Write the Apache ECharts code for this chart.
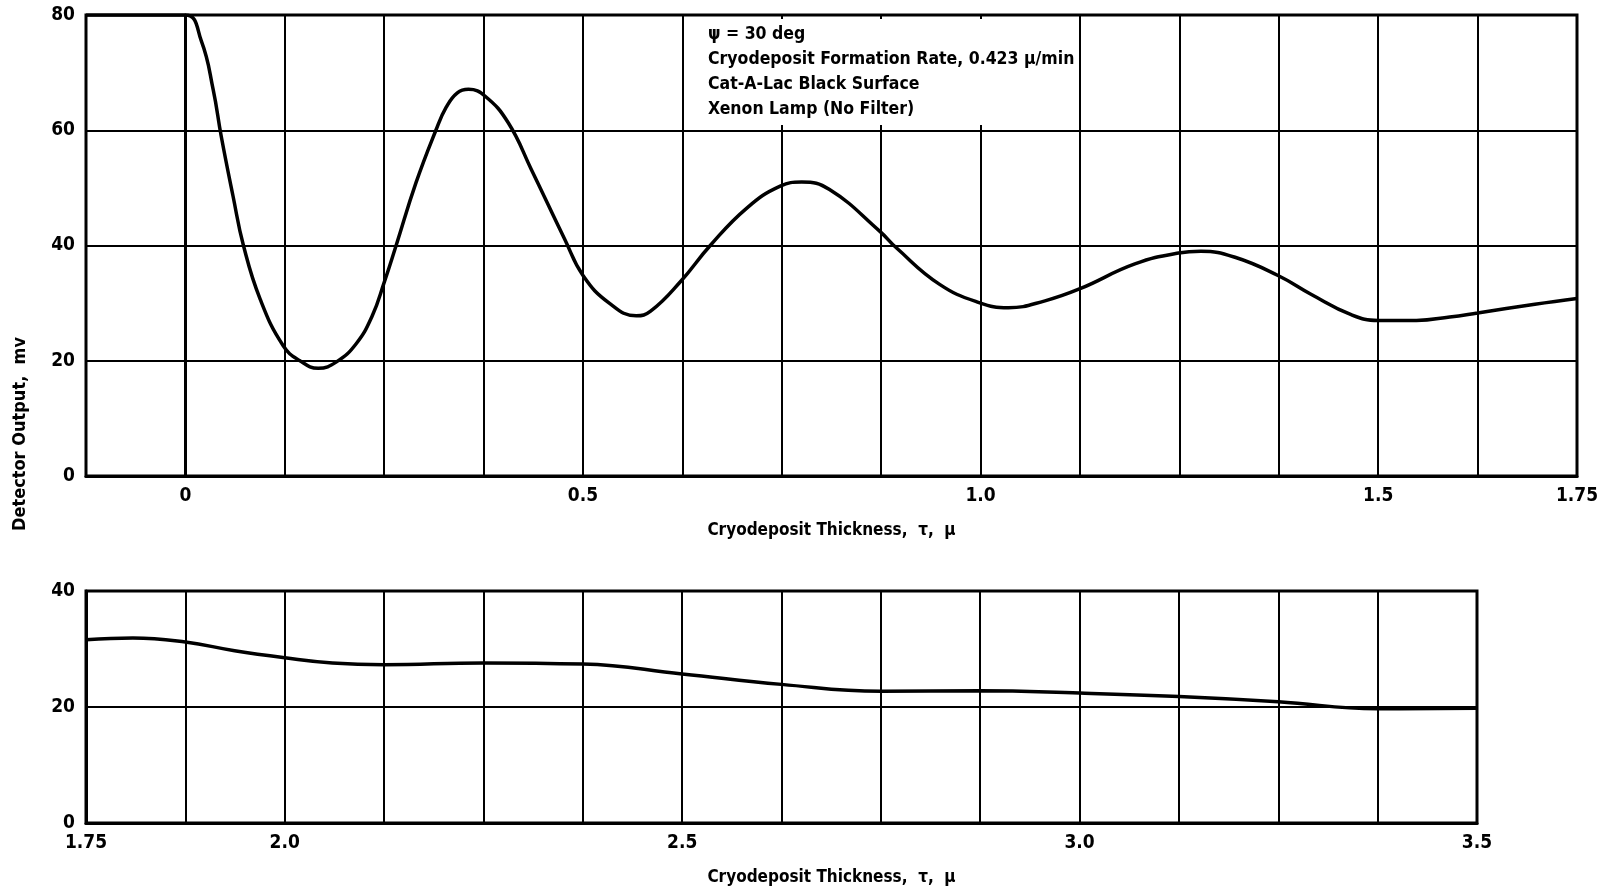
<!DOCTYPE html>
<html>
<head>
    <meta charset="utf-8">
    <title>Detector Output vs Cryodeposit Thickness</title>
    <script src="https://cdn.jsdelivr.net/npm/echarts@6/dist/echarts.min.js"></script>
    <style>
        html, body { margin: 0; padding: 0; background: #fff; }
        #main { width: 1609px; height: 896px; }
    </style>
</head>
<body>
<div id="main"></div>
<script>
    // upper panel: thickness 0 .. 1.75 micron
    var topX = [-0.125, 0, 0.02, 0.035, 0.045, 0.06, 0.073, 0.094, 0.123, 0.144, 0.167, 0.19, 0.215, 0.235,
        0.25, 0.265, 0.29, 0.315, 0.328, 0.342, 0.356, 0.377, 0.406, 0.435, 0.477, 0.5, 0.533, 0.567, 0.585, 0.623,
        0.66, 0.706, 0.748, 0.775, 0.81, 0.873, 0.894, 0.948, 0.998, 1.035, 1.081, 1.125, 1.194, 1.249, 1.277,
        1.319, 1.374, 1.416, 1.466, 1.5, 1.548, 1.59, 1.625, 1.697, 1.75];
    var topY = [80, 80, 75.5, 67, 59, 48.5, 40, 30.7, 22.6, 20, 18.7, 19.8, 23, 27.8,
        33.6, 40, 50.9, 60, 64, 66.5, 67.1, 65.9, 61.3, 53.2, 41.1, 34.8, 30.0, 27.8, 28.6, 33.8,
        40, 46.5, 50.3, 51, 49.7, 42.5, 39.6, 33.3, 30.1, 29.2, 30.4, 32.5, 36.8, 38.7, 39.0,
        38, 34.8, 31.5, 28, 27, 27, 27.6, 28.3, 29.8, 30.8];

    // lower panel: thickness 1.75 .. 3.5 micron
    var botX = [1.75, 1.809, 1.875, 1.937, 2.0, 2.06, 2.125, 2.25, 2.375, 2.5, 2.625, 2.75, 2.875, 3.0, 3.125, 3.25, 3.375, 3.5];
    var botY = [31.6, 31.9, 31.2, 29.7, 28.5, 27.6, 27.3, 27.6, 27.4, 25.7, 23.9, 22.7, 22.8, 22.4, 21.8, 20.9, 19.7, 19.8];

    var topTicks = [0, 0.5, 1, 1.5, 1.75];
    var topTickLabels = ['0', '0.5', '1.0', '1.5', '1.75'];
    var botTicks = [1.75, 2, 2.5, 3, 3.5];
    var botTickLabels = ['1.75', '2.0', '2.5', '3.0', '3.5'];

    var notes = [
        'ψ = 30 deg',
        'Cryodeposit Formation Rate, 0.423 μ/min',
        'Cat-A-Lac Black Surface',
        'Xenon Lamp (No Filter)'
    ];

    var font = "'Liberation Sans Narrow', 'DejaVu Sans Condensed', sans-serif";

    function pairs(xs, ys) {
        return xs.map(function (x, i) { return [x, ys[i]]; });
    }

    function tickLabel(ticks, labels) {
        return function (v) {
            for (var i = 0; i < ticks.length; i++) {
                if (Math.abs(ticks[i] - v) < 1e-6) return labels[i];
            }
            return '';
        };
    }

    function xAxis(idx, min, max, ticks, labels, pad) {
        return {
            type: 'value', gridIndex: idx, min: min, max: max, interval: 0.125,
            name: 'Cryodeposit Thickness,  τ,  μ',
            nameLocation: 'middle', nameGap: 46,
            nameTextStyle: { color: '#000', fontFamily: font, fontWeight: 'bold', fontSize: 17, padding: [0, 0, 0, pad] },
            axisLine: { show: true, lineStyle: { color: '#000', width: 3 } },
            axisTick: { show: false },
            axisLabel: {
                color: '#000', fontFamily: font, fontWeight: 'bold', fontSize: 19, margin: 11,
                showMinLabel: true, showMaxLabel: true, hideOverlap: false,
                formatter: tickLabel(ticks, labels)
            },
            splitLine: { show: true, lineStyle: { color: '#000', width: 2 } }
        };
    }

    function yAxis(idx, max) {
        return {
            type: 'value', gridIndex: idx, min: 0, max: max, interval: 20,
            axisLine: { show: true, lineStyle: { color: '#000', width: 3 } },
            axisTick: { show: false },
            axisLabel: { color: '#000', fontFamily: font, fontWeight: 'bold', fontSize: 19, margin: 11 },
            splitLine: { show: true, lineStyle: { color: '#000', width: 2 } }
        };
    }

    var myChart = echarts.init(document.getElementById('main'));

    var option = {
        backgroundColor: '#fff',
        animation: false,
        grid: [
            { left: 86, right: 32, top: 15, height: 461, show: true, borderColor: '#000', borderWidth: 3 },
            { left: 86, width: 1391, top: 591, height: 232, show: true, borderColor: '#000', borderWidth: 3 }
        ],
        xAxis: [
            xAxis(0, -0.125, 1.75, topTicks, topTickLabels, 0),
            xAxis(1, 1.75, 3.5, botTicks, botTickLabels, 100)
        ],
        yAxis: [yAxis(0, 80), yAxis(1, 40)],
        series: [
            {
                type: 'line', xAxisIndex: 0, yAxisIndex: 0, data: pairs(topX, topY),
                smooth: 0.45, showSymbol: false, lineStyle: { color: '#000', width: 3.5 }
            },
            {
                type: 'line', xAxisIndex: 1, yAxisIndex: 1, data: pairs(botX, botY),
                smooth: 0.45, showSymbol: false, lineStyle: { color: '#000', width: 3.5 }
            }
        ],
        graphic: [
            {
                type: 'rect', left: 685, top: 19, z: 50,
                shape: { width: 388, height: 106 },
                style: { fill: '#fff' }
            },
            {
                type: 'text', left: 708, top: 22, z: 51,
                style: {
                    text: notes.join('\n'), fill: '#000', lineHeight: 25,
                    font: 'bold 17.5px ' + font
                }
            },
            {
                type: 'text', left: 11, top: 337, z: 51, rotation: Math.PI / 2,
                style: {
                    text: 'Detector Output,  mv', fill: '#000',
                    font: 'bold 18px ' + font
                }
            }
        ]
    };

    myChart.setOption(option);
</script>
</body>
</html>
